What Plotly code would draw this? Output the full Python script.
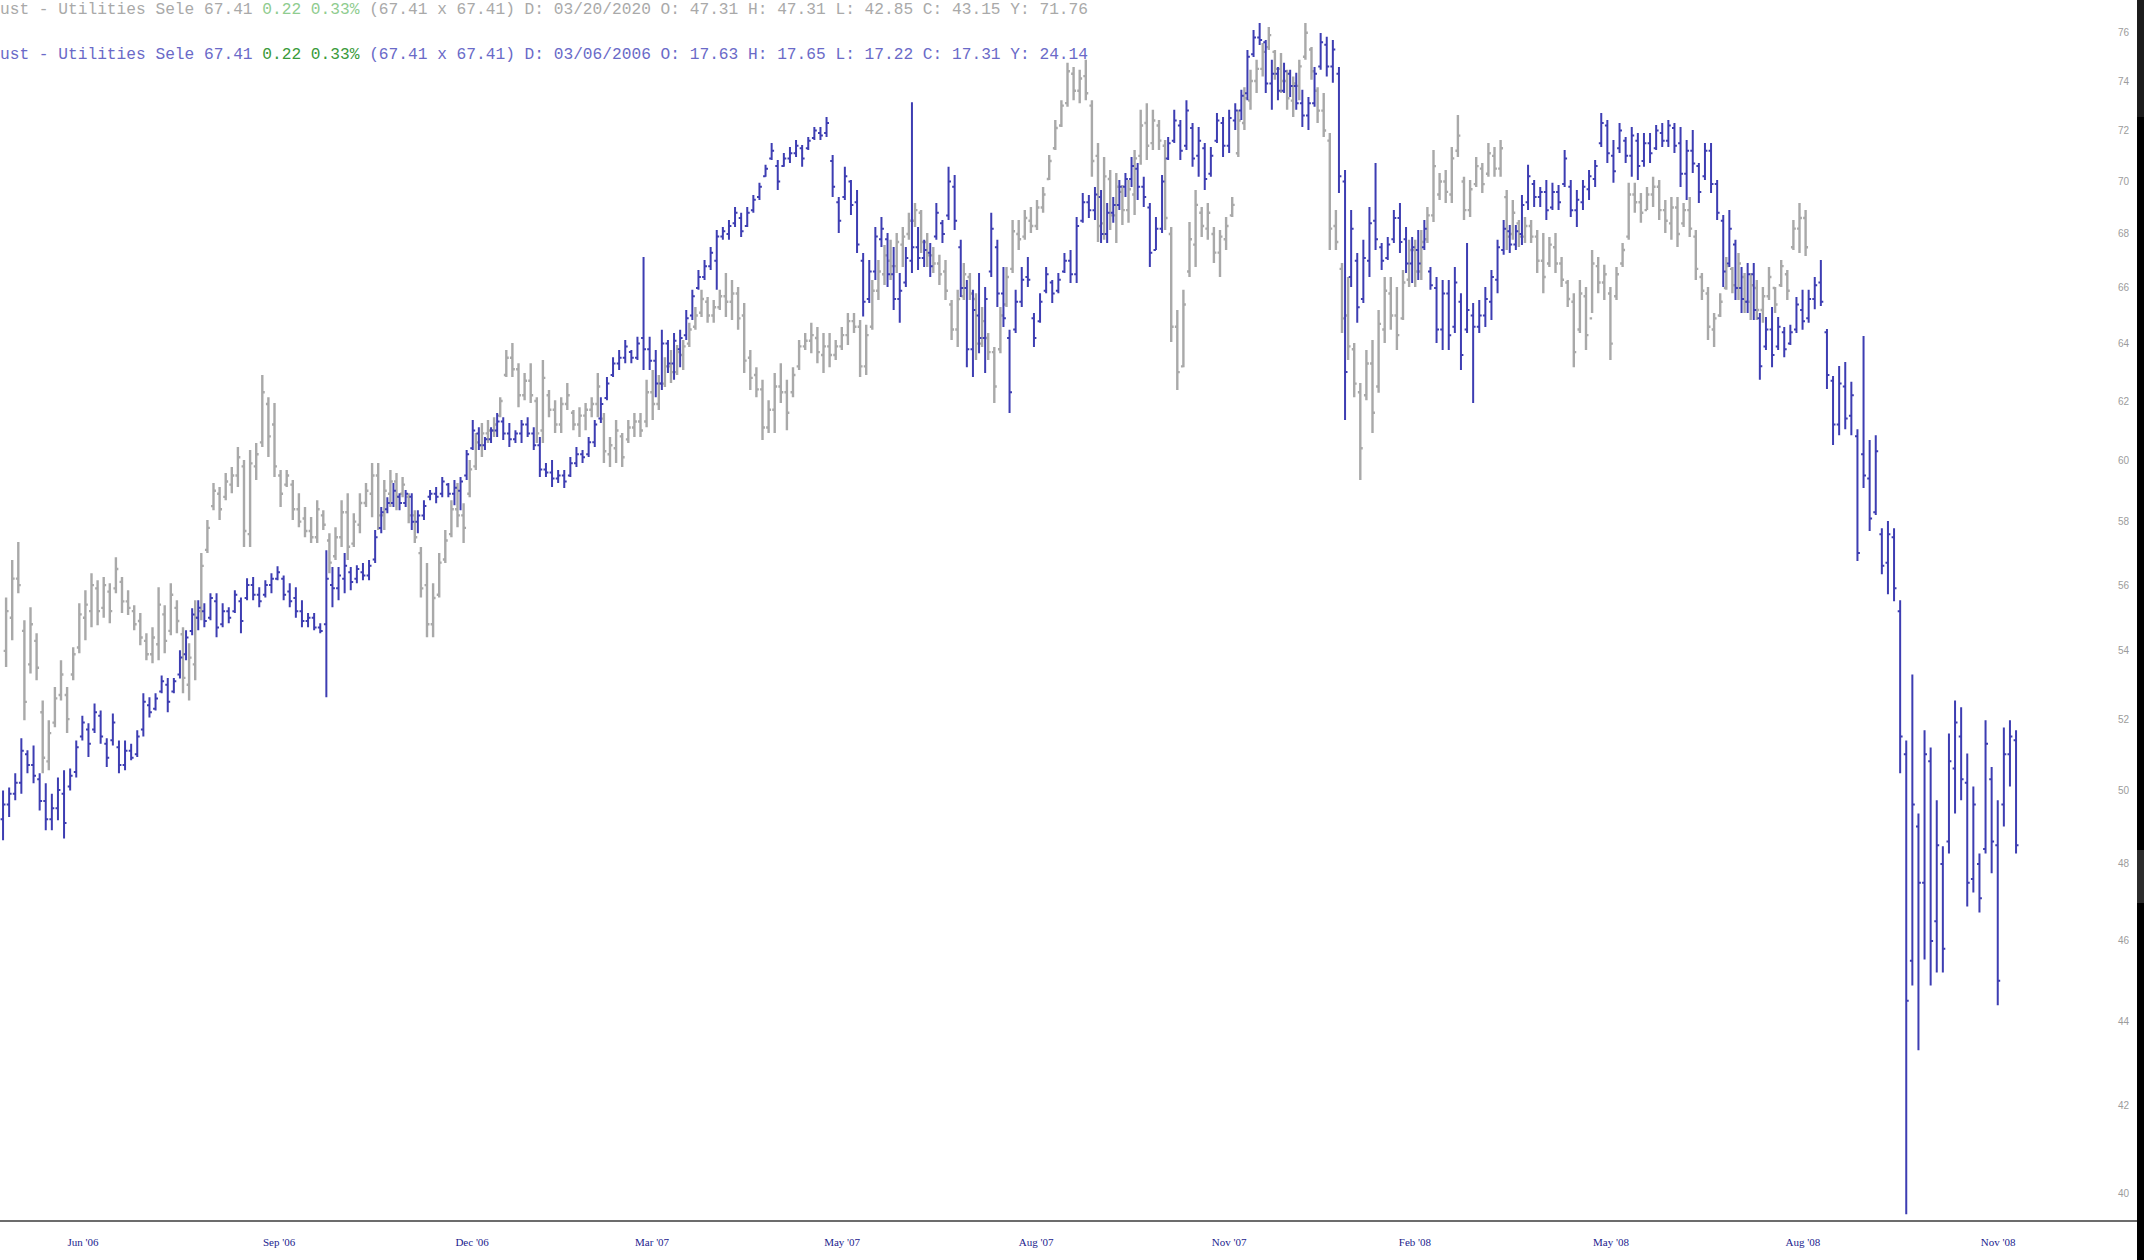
import numpy as np
import plotly.graph_objects as go

# ---------------- data ----------------
BLUE_OPEN = [
49.2,49.6,49.9,50.2,51.0,50.7,50.3,49.7,49.2,49.5,
49.9,50.1,50.5,51.5,51.7,51.7,52.1,51.3,51.4,51.2,
50.7,51.1,51.0,51.7,52.4,52.3,52.8,53.0,52.8,53.3,
53.9,54.6,55.0,55.2,55.0,55.5,54.8,55.2,55.2,55.5,
55.6,56.0,55.7,55.7,56.0,56.2,56.2,55.8,55.6,55.2,
54.9,55.0,54.7,54.8,56.0,55.9,56.2,56.4,56.2,56.4,
56.3,56.8,57.8,58.4,58.6,58.8,58.6,58.8,58.0,58.2,
58.8,58.9,58.9,59.2,58.9,59.0,59.5,60.4,60.9,60.5,
60.7,61.0,61.3,60.9,60.7,60.9,61.2,60.9,60.5,59.7,
59.6,59.4,59.5,59.5,59.9,60.2,60.2,60.6,61.4,62.1,
62.9,63.3,63.5,63.7,63.5,64.2,63.8,63.4,62.6,64.0,
63.3,63.8,64.3,65.0,66.0,66.4,66.8,67.0,67.9,68.0,
68.4,68.6,68.3,68.9,69.4,70.2,70.9,70.6,70.6,70.9,
71.1,71.3,71.3,71.7,71.9,71.9,70.8,69.2,69.4,70.0,
69.2,67.0,65.6,66.6,67.8,67.8,66.5,65.6,66.2,67.0,
67.5,67.1,67.3,67.9,68.4,68.7,69.8,67.5,66.0,63.8,
65.0,64.2,66.6,67.5,65.8,64.2,64.5,65.5,66.4,64.9,
64.8,65.9,66.2,65.9,66.6,67.0,66.5,68.5,69.2,68.9,
69.4,68.0,68.8,69.1,69.8,70.1,70.5,69.8,69.0,67.4,
68.2,70.9,71.6,72.2,71.4,72.1,71.0,71.3,70.3,71.6,
72.3,71.4,72.4,72.8,73.5,75.1,75.8,75.6,73.9,74.3,
73.6,74.3,73.8,73.1,72.6,73.1,74.6,75.5,74.6,74.3,
70.0,66.4,67.0,65.6,67.0,68.5,67.5,67.1,67.8,68.6,
67.8,66.9,67.4,67.5,66.6,66.0,64.5,65.8,64.6,65.5,
64.5,65.0,64.6,65.0,65.5,66.3,67.4,68.1,67.6,68.0,
69.2,69.9,69.4,69.6,69.0,69.6,69.9,69.8,68.9,69.2,
69.7,70.1,71.5,72.2,71.0,71.3,71.6,71.0,71.6,70.8,
71.5,71.3,71.9,71.6,72.1,71.5,70.3,71.2,70.6,70.2,
71.2,69.9,68.5,66.9,67.6,66.0,65.5,66.5,64.9,63.9,
64.5,63.9,64.4,64.0,64.5,65.2,64.9,65.6,66.2,64.4,
62.7,61.2,62.5,61.5,60.8,60.2,59.4,58.3,57.6,56.7,
57.5,55.2,51.0,45.5,49.0,47.5,50.8,46.5,48.0,48.6,
50.6,51.5,50.2,47.6,48.0,48.4,50.3,48.5,49.6,51.0,
51.4]
BLUE_HIGH = [
49.99,50.07,50.47,51.45,51.11,51.25,50.47,50.19,49.90,50.35,
50.55,50.60,51.39,52.10,51.88,52.45,52.25,51.45,52.16,51.39,
51.39,51.30,51.68,52.75,52.63,52.75,53.27,53.20,53.20,54.02,
54.62,55.29,55.53,55.44,55.75,55.75,55.44,55.32,55.84,55.62,
56.21,56.25,55.93,56.15,56.37,56.59,56.30,56.06,55.93,55.53,
55.14,55.14,54.83,57.09,56.56,56.56,57.00,56.56,56.62,56.69,
56.78,57.73,58.47,58.79,59.25,58.92,59.02,58.92,58.37,58.69,
59.02,59.12,59.45,59.25,59.35,59.45,60.34,61.35,61.11,60.78,
61.11,61.59,61.45,61.25,61.01,61.35,61.45,61.11,60.78,59.91,
60.01,59.68,59.68,60.11,60.44,60.34,60.78,61.35,62.13,62.83,
63.52,63.77,64.13,63.77,64.24,67.14,64.24,63.77,64.49,64.13,
64.38,64.49,65.20,65.93,66.66,67.03,67.51,68.15,68.26,68.53,
69.02,68.80,69.02,69.48,69.95,70.65,71.51,70.84,71.11,71.35,
71.63,71.43,71.74,72.14,72.14,72.54,71.03,69.40,70.57,70.06,
69.67,67.29,67.03,68.26,68.64,68.04,67.51,66.55,67.51,73.14,
68.26,67.78,67.66,69.17,68.53,70.57,70.25,67.78,66.29,65.93,
66.55,66.03,68.80,67.78,66.77,64.49,65.93,66.77,67.14,65.09,
65.81,66.77,66.29,66.55,67.29,67.40,68.64,69.56,69.48,69.79,
69.67,69.17,69.40,70.06,70.33,70.96,70.72,70.18,69.17,68.64,
70.25,71.74,72.83,72.42,73.22,72.30,72.14,71.51,71.35,72.70,
72.54,72.83,73.10,73.64,75.28,76.12,76.41,75.70,74.87,74.58,
74.75,74.46,74.34,73.64,73.35,74.58,75.99,75.83,75.70,74.58,
70.45,68.91,67.29,67.78,69.02,70.72,67.66,67.89,68.91,69.17,
68.26,67.89,68.15,68.53,66.77,66.40,66.29,66.29,66.77,65.81,
67.66,65.45,65.56,66.03,66.66,67.78,68.53,68.34,68.34,69.48,
70.65,70.06,69.79,70.06,69.95,69.87,71.23,70.06,69.67,70.06,
70.45,70.84,72.70,72.42,71.63,72.30,71.74,72.14,71.90,71.90,
71.90,72.22,72.30,72.42,72.30,72.14,71.63,72.02,70.72,71.51,
71.51,70.06,68.72,68.91,67.78,66.77,66.92,66.92,65.09,64.95,
65.31,64.95,64.59,64.67,65.67,65.93,65.93,66.40,67.03,64.52,
62.86,63.21,63.35,62.66,61.04,64.27,60.68,60.84,57.79,58.02,
57.79,55.53,51.39,53.30,49.36,51.68,51.19,49.72,48.47,51.59,
52.54,52.34,51.02,50.10,48.28,51.97,50.64,49.72,51.76,51.97,
51.68]
BLUE_LOW = [
48.63,49.26,49.72,49.90,50.47,50.19,49.44,48.90,48.90,49.17,
48.68,49.99,50.35,51.39,50.92,51.60,51.30,50.64,51.25,50.47,
50.55,50.83,50.92,51.50,52.05,52.25,52.75,52.20,52.75,53.18,
53.72,54.47,54.62,54.71,54.92,54.41,54.71,54.83,55.14,54.53,
55.53,55.53,55.32,55.62,55.75,56.15,55.53,55.32,55.00,54.71,
54.71,54.62,54.53,52.63,55.32,55.53,55.75,55.84,56.06,56.15,
56.15,56.69,57.63,58.27,58.47,58.37,58.47,57.73,57.63,58.05,
58.69,58.59,58.79,58.79,58.53,58.37,59.35,60.34,60.34,60.34,
60.58,60.78,60.68,60.44,60.58,60.58,60.78,60.34,59.45,59.45,
59.12,59.25,59.09,59.45,59.78,59.91,60.11,60.44,61.25,62.03,
62.83,63.07,63.31,63.31,63.42,63.07,63.07,62.13,62.38,62.97,
62.73,63.17,64.13,64.84,65.93,66.29,66.66,65.93,67.78,67.78,
68.26,67.89,68.26,68.80,69.29,70.18,70.84,69.67,70.57,70.72,
70.96,70.57,71.23,71.63,71.63,71.74,69.40,68.04,69.29,68.72,
67.29,64.97,65.45,66.29,67.51,66.03,65.20,64.74,66.03,66.55,
66.66,66.77,66.40,67.78,67.66,68.53,68.15,65.67,63.17,62.83,
63.66,62.97,66.40,65.31,64.59,61.59,64.38,65.31,66.03,63.88,
64.74,65.81,65.45,65.81,66.55,66.18,66.18,68.42,68.60,68.53,
67.66,67.66,68.42,68.91,69.40,69.79,69.29,69.02,66.77,67.40,
68.04,70.84,71.51,70.84,71.23,70.57,70.18,69.67,70.18,71.51,
70.96,71.11,72.02,72.42,73.22,74.99,75.49,73.51,72.83,73.22,
73.51,73.35,72.83,72.14,72.02,72.95,74.46,74.18,73.93,69.56,
61.35,66.03,64.74,65.45,66.40,67.40,66.66,67.03,67.66,67.29,
66.55,66.18,66.29,67.40,65.93,64.02,63.77,63.77,64.38,63.07,
64.38,61.93,64.38,64.59,64.84,65.81,67.22,67.29,67.40,67.59,
68.91,69.02,69.02,68.53,68.91,68.91,69.79,68.64,68.26,68.91,
69.29,69.79,71.35,70.72,69.95,71.11,70.72,70.18,70.06,70.57,
70.72,71.23,71.35,71.35,71.11,69.79,69.29,70.33,69.17,70.06,
69.56,68.53,66.03,66.77,65.56,65.09,65.09,64.84,62.73,63.77,
63.17,63.77,63.52,63.95,64.38,64.49,64.74,65.23,65.34,62.41,
60.51,60.84,61.04,60.84,56.75,59.09,57.70,58.21,56.34,55.72,
55.50,50.47,39.55,44.88,43.30,45.53,44.88,45.20,45.20,48.28,
49.36,49.72,46.88,47.25,46.73,48.28,47.75,44.39,49.00,50.10,
48.28]
BLUE_CLOSE = [
49.6,49.9,50.2,51.1,50.7,50.4,49.7,49.2,49.5,50.0,
49.1,50.4,51.2,51.9,51.3,52.2,51.5,50.9,51.9,50.7,
51.1,50.9,51.5,52.5,52.2,52.6,53.1,52.5,53.1,53.8,
54.4,55.1,55.3,54.9,55.6,54.7,55.2,55.0,55.7,54.9,
56.0,55.7,55.5,56.0,56.2,56.4,55.7,55.5,55.2,54.9,
55.0,54.7,54.6,56.2,55.9,56.3,56.6,56.1,56.5,56.3,
56.6,57.5,58.3,58.6,59.0,58.6,58.9,58.0,58.2,58.5,
58.9,58.8,59.3,58.9,59.1,59.3,60.2,61.0,60.5,60.7,
61.0,61.3,60.9,60.7,60.9,61.2,60.9,60.5,59.7,59.6,
59.4,59.5,59.3,59.9,60.2,60.1,60.6,61.2,61.9,62.6,
63.3,63.5,63.9,63.5,64.0,63.8,63.4,62.6,64.0,63.3,
64.1,64.2,64.9,65.7,66.4,66.8,67.3,67.9,68.1,68.3,
68.8,68.1,68.8,69.3,69.8,70.5,71.2,70.0,70.9,71.1,
71.4,70.9,71.6,72.0,71.8,72.3,69.8,68.5,70.2,69.1,
67.6,65.5,66.6,67.9,68.2,66.5,65.6,65.9,67.1,67.5,
67.1,67.4,66.8,68.8,68.0,70.0,68.5,66.0,63.8,65.2,
64.2,65.6,68.2,65.8,64.9,62.3,65.5,66.3,66.3,64.2,
65.5,66.5,65.8,66.3,67.0,66.5,68.3,69.2,68.9,69.5,
68.0,68.8,69.1,69.8,70.1,70.6,69.8,69.4,67.3,68.2,
70.0,71.5,72.4,71.2,72.8,70.9,71.6,70.1,71.0,72.4,
71.4,72.5,72.8,73.4,75.0,75.8,75.7,73.9,74.3,73.6,
74.4,73.8,73.1,72.6,73.1,74.3,75.6,74.6,75.3,70.2,
63.0,68.2,65.3,67.1,68.4,67.8,67.0,67.6,68.6,67.7,
66.9,67.5,66.9,68.2,66.1,64.5,65.8,64.3,66.2,63.6,
65.2,64.6,65.0,65.6,66.4,67.5,68.2,67.6,68.1,69.1,
70.2,69.4,69.6,68.9,69.6,69.2,70.9,68.9,69.3,69.8,
70.2,70.6,72.3,71.1,70.4,72.0,71.0,71.8,70.6,71.5,
71.1,72.0,71.6,72.2,71.4,70.3,71.2,70.7,69.6,71.2,
69.9,68.8,66.6,68.2,66.0,65.6,66.5,65.2,63.2,64.5,
63.6,64.6,63.8,64.4,65.4,64.8,65.6,66.1,65.5,62.9,
61.2,62.6,61.4,62.2,57.0,59.5,58.1,60.3,56.6,57.6,
55.9,51.5,44.5,49.6,47.5,51.0,46.0,48.5,45.8,50.8,
51.9,50.3,47.5,49.6,47.1,51.3,48.6,45.0,51.0,51.5,
48.5]

GRAY_OPEN = [
54.0,55.0,56.2,54.6,53.6,54.3,52.2,50.8,51.9,52.7,
52.7,53.3,54.1,55.0,55.2,55.9,55.3,55.8,55.9,56.1,
55.5,55.2,54.9,54.3,53.9,54.2,55.1,54.6,55.3,54.5,
53.0,53.6,55.2,57.1,58.5,58.9,58.8,59.2,59.5,59.8,
57.6,59.8,60.6,61.9,61.2,59.5,59.2,59.2,58.4,58.1,
57.7,57.5,58.2,57.4,56.9,57.5,58.3,57.3,57.9,58.6,
58.9,59.5,58.2,58.9,59.3,58.9,58.8,58.2,57.0,56.0,
54.8,55.7,56.8,57.6,58.4,58.2,58.9,59.8,60.5,60.9,
61.0,61.5,62.9,63.5,63.1,62.2,62.7,62.0,61.0,62.2,
61.7,61.2,61.9,61.6,61.2,61.5,61.7,61.9,61.4,60.2,
60.4,60.8,60.7,61.1,61.3,61.3,62.3,61.9,62.6,63.2,
63.0,63.6,64.0,64.6,65.1,65.5,65.0,65.3,65.7,65.5,
65.8,65.0,63.5,62.9,62.4,61.1,61.7,62.5,62.3,62.3,
63.2,63.9,64.1,64.2,63.6,63.9,63.6,63.9,64.3,64.8,
64.6,63.2,64.6,65.9,66.5,67.0,66.8,67.6,68.0,68.5,
68.8,67.7,67.2,66.9,66.6,65.4,64.5,65.7,66.4,65.6,
64.0,64.2,63.7,63.8,65.4,66.7,68.0,67.9,68.5,68.3,
69.0,70.1,71.3,72.2,73.1,74.3,73.6,74.2,73.0,71.0,
68.4,70.1,68.7,69.6,68.9,69.5,71.0,72.3,71.5,72.2,
71.4,68.0,64.6,63.2,66.6,67.6,68.8,68.2,68.0,67.3,
67.8,68.7,71.1,72.3,73.2,74.0,74.5,75.4,75.2,74.5,
74.0,73.2,73.8,75.0,75.3,73.6,72.8,71.6,68.3,66.7,
65.0,63.8,62.3,62.2,63.3,62.5,64.5,65.8,65.0,64.9,
66.3,67.4,66.6,67.8,68.7,69.5,70.0,69.5,71.2,70.0,
68.9,69.9,70.5,70.3,71.0,70.5,69.4,68.0,68.4,67.9,
68.3,67.9,67.0,66.9,67.5,66.9,66.2,65.5,64.5,65.7,
64.9,66.8,66.2,65.8,65.7,66.9,67.9,69.5,69.2,68.9,
69.5,69.8,68.9,68.4,69.0,68.4,68.9,67.9,66.4,65.8,
64.5,65.0,66.0,66.7,66.0,66.4,65.5,66.0,65.2,65.7,
66.0,66.1,66.5,67.5,68.2,68.6]
GRAY_HIGH = [
55.62,56.78,57.35,54.92,55.32,54.53,52.54,51.97,52.93,53.72,
52.93,54.11,55.44,55.84,56.37,56.15,56.25,56.06,56.87,56.25,
55.84,55.38,55.14,54.53,54.71,55.93,55.38,56.06,55.53,54.71,
54.23,55.53,57.00,58.05,59.25,59.12,59.58,59.78,60.44,60.01,
60.34,60.58,62.90,62.13,61.93,59.68,59.68,59.35,58.92,58.47,
58.15,58.69,58.37,57.63,57.82,58.69,58.92,58.27,58.92,59.25,
59.91,59.91,59.35,59.68,59.58,59.45,58.92,58.37,57.19,56.69,
56.06,57.00,57.73,58.69,59.25,58.59,60.01,60.91,61.25,61.35,
61.45,62.13,63.77,64.02,63.31,62.97,63.31,62.13,63.42,62.38,
62.03,62.13,62.62,61.69,61.79,61.93,62.13,62.97,61.59,60.78,
61.35,60.91,61.35,61.59,61.59,62.73,63.07,62.90,63.52,63.77,
63.95,64.13,64.74,65.31,65.93,65.67,65.56,65.93,66.55,66.29,
66.03,65.45,63.77,63.17,62.73,62.03,62.97,63.31,62.73,63.17,
64.13,64.38,64.74,64.59,64.38,64.38,64.13,64.59,65.09,65.09,
64.84,64.67,66.29,67.03,67.59,67.78,68.04,68.26,68.80,69.17,
68.91,68.04,67.51,67.22,67.03,65.56,65.93,66.92,66.55,65.81,
65.31,64.38,63.88,65.31,66.77,68.53,68.53,68.91,69.02,69.29,
69.79,71.03,72.42,73.22,74.75,74.58,74.46,74.87,73.22,71.51,
70.96,70.45,70.33,69.87,70.06,71.23,72.83,73.10,72.83,72.42,
71.63,68.26,65.20,65.93,68.45,69.67,69.02,69.17,68.26,68.15,
68.64,69.40,72.83,73.75,74.46,74.87,75.57,76.24,75.28,75.16,
74.46,74.18,74.87,76.41,75.41,73.75,73.51,71.90,68.91,66.92,
66.40,64.02,62.62,63.77,64.13,65.20,66.40,66.40,66.03,66.66,
67.78,67.78,68.15,69.02,71.23,70.33,70.45,71.35,72.62,70.18,
70.06,70.96,70.72,71.51,71.35,71.63,69.67,69.29,68.53,68.64,
68.53,68.15,68.04,67.89,68.04,67.14,66.29,65.81,66.29,66.03,
67.40,67.14,66.85,66.03,66.77,67.66,69.95,69.95,69.56,69.79,
70.18,70.06,69.29,69.40,69.40,69.17,69.40,68.15,66.55,66.03,
65.09,65.81,67.14,66.77,67.29,66.55,66.55,66.29,66.03,66.77,
66.03,67.03,66.66,68.53,69.17,68.91]
GRAY_LOW = [
53.52,54.32,55.75,51.97,53.33,53.13,50.47,50.55,51.77,52.54,
51.60,53.13,53.93,54.32,54.71,54.77,55.00,54.83,55.75,55.14,
55.08,54.62,54.17,53.72,53.63,53.72,53.93,54.47,54.53,52.75,
52.54,53.13,54.92,57.00,58.37,58.05,58.69,58.92,59.12,57.19,
57.19,59.35,60.44,60.11,59.45,58.47,59.12,58.05,57.82,57.50,
57.32,57.32,57.73,56.37,56.78,57.19,56.78,57.19,57.63,58.47,
58.14,57.73,57.73,58.47,58.37,58.79,57.95,57.32,55.62,54.41,
54.41,55.62,56.69,57.50,57.82,57.32,58.79,59.68,60.11,60.58,
60.78,61.45,62.83,62.83,61.79,62.03,61.93,60.58,60.58,61.45,
60.91,60.91,61.69,61.01,60.78,61.01,61.45,61.45,59.91,59.78,
59.91,59.78,60.58,60.78,60.78,61.11,61.35,61.69,62.48,62.62,
62.90,63.07,63.88,64.49,64.95,64.74,64.74,65.20,64.95,64.84,
64.49,62.97,62.38,62.13,60.68,60.91,60.91,61.93,61.01,62.13,
63.07,63.77,63.66,63.31,62.97,63.17,63.42,63.77,63.95,64.38,
62.83,62.90,64.49,65.56,66.11,66.29,66.55,66.77,67.78,68.26,
67.29,66.77,66.55,66.11,65.56,64.13,63.88,65.56,65.56,63.42,
63.88,63.42,61.93,63.66,65.31,66.55,67.40,67.78,68.04,68.15,
68.80,70.06,71.23,72.14,72.95,73.22,73.10,73.22,70.18,67.70,
67.78,68.15,67.66,68.34,68.42,68.72,70.65,70.84,71.23,71.23,
68.15,64.06,62.38,63.17,66.40,66.77,67.89,67.78,66.92,66.40,
67.40,68.64,70.96,72.02,72.83,73.51,74.18,75.28,74.05,73.51,
72.83,72.54,73.22,74.87,74.05,72.30,71.74,67.40,67.40,64.38,
63.42,62.13,59.35,62.03,60.91,62.28,64.02,64.49,63.77,64.84,
66.03,66.03,66.29,67.66,68.45,69.29,69.17,69.17,70.96,68.53,
68.64,69.79,69.56,70.18,70.18,70.18,67.40,67.78,67.51,67.66,
67.66,66.55,65.81,66.77,66.55,66.03,65.31,63.17,64.38,63.77,
65.09,65.81,65.56,63.42,65.56,66.77,67.78,68.80,68.42,68.91,
69.02,68.53,68.04,67.78,67.51,68.26,67.89,66.29,65.56,64.13,
63.88,64.95,65.93,65.81,65.56,65.09,64.84,64.84,64.74,65.56,
65.09,66.03,65.56,67.40,67.29,67.18]
GRAY_CLOSE = [
55.2,56.2,56.0,52.5,54.8,53.5,50.9,51.6,52.6,53.3,
52.0,53.9,55.1,55.4,56.0,55.2,56.0,55.2,56.5,55.5,
55.3,54.8,54.4,53.9,54.4,55.4,54.3,55.7,54.9,53.2,
53.8,55.0,56.6,57.8,59.0,58.4,59.3,59.5,60.1,57.7,
59.9,60.2,62.3,60.8,59.8,58.9,59.5,58.4,58.0,57.7,
57.5,58.4,57.9,56.7,57.5,58.3,57.2,58.0,58.6,59.0,
59.5,58.2,59.0,59.3,58.8,59.2,58.2,57.5,55.9,54.8,
55.6,56.7,57.4,58.4,58.2,57.8,59.7,60.6,60.9,61.0,
61.2,62.0,63.5,63.1,62.2,62.7,62.2,60.9,62.8,61.7,
61.2,61.9,62.2,61.2,61.5,61.7,61.9,62.5,60.3,60.5,
61.0,60.1,61.1,61.3,61.0,62.3,61.9,62.6,63.2,63.0,
63.7,63.9,64.5,65.0,65.6,65.0,65.3,65.7,65.5,65.8,
64.9,63.4,62.8,62.4,61.1,61.7,62.5,62.3,61.6,62.9,
63.9,64.1,64.3,63.7,63.9,63.6,63.9,64.3,64.8,64.6,
63.2,64.3,65.9,66.6,67.2,66.8,67.7,67.9,68.5,68.9,
67.7,67.2,66.9,66.5,65.9,64.5,65.6,66.5,65.8,64.0,
64.8,63.7,62.5,65.0,66.4,68.1,67.8,68.6,68.3,69.0,
69.5,70.8,72.1,73.0,74.4,73.6,74.1,73.5,70.8,68.3,
70.2,68.7,69.8,68.9,69.7,70.9,72.2,71.4,72.4,71.6,
68.6,64.6,63.0,65.4,67.8,69.1,68.3,68.8,67.3,67.9,
68.3,69.1,72.4,73.3,74.0,74.5,75.2,75.9,74.5,74.0,
73.3,73.9,74.6,76.0,74.4,72.8,72.0,68.2,67.7,64.9,
63.9,62.6,60.4,63.3,61.6,64.7,65.9,65.0,64.3,66.2,
67.4,66.6,67.7,68.7,70.6,70.0,69.6,70.9,71.8,68.9,
69.7,70.6,69.9,71.1,70.5,71.3,67.9,68.8,67.9,68.3,
67.9,67.0,66.4,67.6,66.9,66.3,65.6,63.7,65.8,64.3,
66.9,66.2,66.5,64.0,66.5,67.4,69.5,69.2,68.8,69.5,
69.8,68.9,68.5,69.0,68.0,68.9,68.2,66.7,65.9,64.6,
64.9,65.5,66.8,66.1,66.9,65.5,66.1,65.2,65.7,66.4,
65.4,66.8,65.9,68.2,68.6,67.5]

Y_TICKS = [40, 42, 44, 46, 48, 50, 52, 54, 56, 58, 60, 62, 64, 66, 68, 70, 72, 74, 76]
X_TICK_LABELS = ["Jun '06", "Sep '06", "Dec '06", "Mar '07", "May '07", "Aug '07",
                 "Nov '07", "Feb '08", "May '08", "Aug '08", "Nov '08"]
X_TICK_SLOTS = [26.2, 90.5, 153.8, 212.8, 275.1, 338.7, 402.0, 462.9, 527.2, 590.1, 654.1]

HEADER_GRAY = ("ust - Utilities Sele 67.41 ", "0.22 0.33%",
               " (67.41 x 67.41) D: 03/20/2020 O: 47.31 H: 47.31 L: 42.85 C: 43.15 Y: 71.76")
HEADER_BLUE = ("ust - Utilities Sele 67.41 ", "0.22 0.33%",
               " (67.41 x 67.41) D: 03/06/2006 O: 17.63 H: 17.65 L: 17.22 C: 17.31 Y: 24.14")

# ---------------- layout constants ----------------
FIG_W, FIG_H = 2144, 1260
M_L, M_R, M_T, M_B = 0, 36, 0, 39
PLOT_W = FIG_W - M_L - M_R
PLOT_H = FIG_H - M_T - M_B
SLOT_PX = 3.05
Y_MIN, Y_MAX = 39.40, 77.39

def paper_x(px):
    return (px - M_L) / PLOT_W

def paper_y(py):
    return (M_T + PLOT_H - py) / PLOT_H

nb = min(len(BLUE_OPEN), len(BLUE_HIGH), len(BLUE_LOW), len(BLUE_CLOSE))
ng = min(len(GRAY_OPEN), len(GRAY_HIGH), len(GRAY_LOW), len(GRAY_CLOSE))
x_blue = np.arange(nb) * 2
x_gray = np.arange(ng) * 2 + 1

GRAY_COL = "#a9a9a9"
BLUE_COL = "#3d3db2"

fig = go.Figure()
fig.add_trace(go.Ohlc(
    x=x_gray, open=GRAY_OPEN[:ng], high=GRAY_HIGH[:ng], low=GRAY_LOW[:ng], close=GRAY_CLOSE[:ng],
    increasing=dict(line=dict(color=GRAY_COL, width=2.4)),
    decreasing=dict(line=dict(color=GRAY_COL, width=2.4)),
    tickwidth=0.4, hoverinfo="skip", showlegend=False))
fig.add_trace(go.Ohlc(
    x=x_blue, open=BLUE_OPEN[:nb], high=BLUE_HIGH[:nb], low=BLUE_LOW[:nb], close=BLUE_CLOSE[:nb],
    increasing=dict(line=dict(color=BLUE_COL, width=2.0)),
    decreasing=dict(line=dict(color=BLUE_COL, width=2.0)),
    tickwidth=0.4, hoverinfo="skip", showlegend=False))

fig.update_layout(
    width=FIG_W, height=FIG_H,
    margin=dict(l=M_L, r=M_R, t=M_T, b=M_B, pad=0),
    paper_bgcolor="white", plot_bgcolor="white",
    showlegend=False,
    xaxis=dict(
        range=[-1, PLOT_W / SLOT_PX - 1], showgrid=False, zeroline=False, showline=False,
        rangeslider=dict(visible=False),
        tickmode="array", tickvals=X_TICK_SLOTS, ticktext=X_TICK_LABELS,
        ticks="outside", ticklen=11, tickcolor="rgba(0,0,0,0)",
        tickfont=dict(family="Liberation Serif", size=11, color="#1c1c8e"),
    ),
    yaxis=dict(
        type="log", range=[np.log10(Y_MIN), np.log10(Y_MAX)], side="right",
        showgrid=False, zeroline=False, showline=False,
        tickmode="array", tickvals=Y_TICKS, ticktext=[str(v) for v in Y_TICKS],
        ticks="outside", ticklen=7, tickcolor="rgba(0,0,0,0)",
        tickfont=dict(family="Liberation Sans", size=10, color="#9c9c9c"),
    ),
)

shapes = []
shapes.append(dict(type="line", xref="paper", yref="paper",
                   x0=paper_x(0), x1=paper_x(2137), y0=paper_y(1221), y1=paper_y(1221),
                   line=dict(color="#6c6c6c", width=2)))
shapes.append(dict(type="rect", xref="paper", yref="paper",
                   x0=paper_x(2137), x1=paper_x(2146), y0=paper_y(1262), y1=paper_y(-2),
                   line=dict(width=0), fillcolor="#000000", layer="above"))
shapes.append(dict(type="rect", xref="paper", yref="paper",
                   x0=paper_x(2137), x1=paper_x(2146), y0=paper_y(117), y1=paper_y(-2),
                   line=dict(width=0), fillcolor="#1c1c1c", layer="above"))
shapes.append(dict(type="rect", xref="paper", yref="paper",
                   x0=paper_x(2137), x1=paper_x(2146), y0=paper_y(903), y1=paper_y(850),
                   line=dict(width=0), fillcolor="#2b2b2b", layer="above"))
fig.update_layout(shapes=shapes)

def header(parts, base_col, green_col):
    return (f'<span style="color:{base_col}">{parts[0]}</span>'
            f'<span style="color:{green_col}">{parts[1]}</span>'
            f'<span style="color:{base_col}">{parts[2]}</span>')

fig.add_annotation(xref="paper", yref="paper", x=paper_x(0), y=paper_y(10),
                   xanchor="left", yanchor="middle", showarrow=False, xshift=-2,
                   text=header(HEADER_GRAY, "#a9a9a9", "#8fcc8f"),
                   font=dict(family="Liberation Mono", size=16.2, color="#a9a9a9"))
fig.add_annotation(xref="paper", yref="paper", x=paper_x(0), y=paper_y(54.5),
                   xanchor="left", yanchor="middle", showarrow=False, xshift=-2,
                   text=header(HEADER_BLUE, "#6a6ac8", "#3a9a3a"),
                   font=dict(family="Liberation Mono", size=16.2, color="#6a6ac8"))

fig.write_html("out.html",
               config={"displayModeBar": False, "staticPlot": True},
               post_script="document.body.style.margin='0px';document.body.style.overflow='hidden';")
